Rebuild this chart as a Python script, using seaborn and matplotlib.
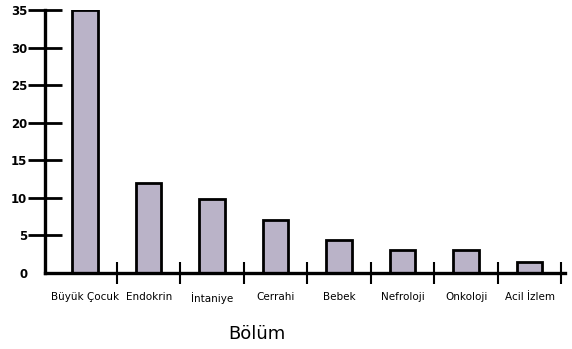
import seaborn as sns
import numpy as np
import pandas as pd
import matplotlib.pyplot as plt
from matplotlib.ticker import FixedLocator

bolumler = ["Büyük Çocuk", "Endokrin", "İntaniye", "Cerrahi", "Bebek",
            "Nefroloji", "Onkoloji", "Acil İzlem"]
degerler = [35, 12, 9.8, 7, 4.4, 3.1, 3.1, 1.5]
y_ticks = [0, 5, 10, 15, 20, 25, 30, 35]

df = pd.DataFrame({"Bölüm": bolumler, "Değer": degerler})

sns.set_style("white")
plt.rcParams['font.family'] = ['Liberation Sans Narrow', 'DejaVu Sans']
plt.rcParams['text.color'] = 'black'
plt.rcParams['axes.labelcolor'] = 'black'
plt.rcParams['xtick.color'] = 'black'
plt.rcParams['ytick.color'] = 'black'

fig = plt.figure(figsize=(5.72, 3.49), dpi=100)
ax = fig.add_axes([0.079, 0.218, 0.909, 0.753])

sns.barplot(data=df, x="Bölüm", y="Değer", color="#bab3c8", saturation=1,
            edgecolor="black", linewidth=2, width=0.4, ax=ax)

ax.set_ylim(0, 35)
ax.set_xlim(-0.63, 7.56)
for side in ["top", "right"]:
    ax.spines[side].set_visible(False)
for side in ["left", "bottom"]:
    ax.spines[side].set_linewidth(2.4)
    ax.spines[side].set_color("black")

ax.set_yticks(y_ticks)
ax.set_yticklabels([str(t) for t in y_ticks], fontsize=8.5, fontweight="bold",
                   family=['DejaVu Sans'])
ax.tick_params(axis="y", left=True, direction="inout", length=24, width=2, pad=1)
ax.yaxis.get_major_ticks()[0].tick1line.set_visible(False)

ax.tick_params(axis="x", which="major", bottom=False, length=0, pad=14, labelsize=7.5)
ax.xaxis.set_minor_locator(FixedLocator(np.arange(0.5, len(bolumler), 1)))
ax.tick_params(axis="x", which="minor", bottom=True, direction="inout",
               length=16, width=1.5)

ax.set_ylabel("")
ax.set_xlabel("Bölüm", fontsize=13, family=['DejaVu Sans'])
ax.xaxis.set_label_coords((257 - 45) / 520, -0.2)

fig.savefig("out.png", dpi=100)
